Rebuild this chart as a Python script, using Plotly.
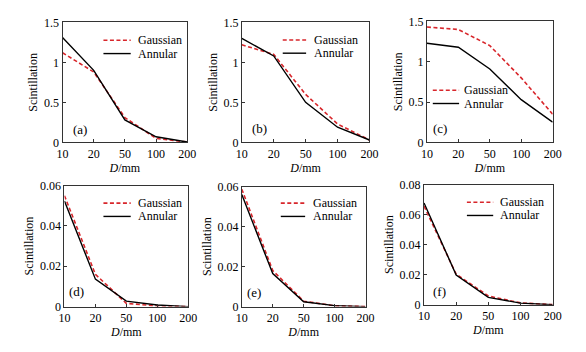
import plotly.graph_objects as go

D_labels = ["10", "20", "50", "100", "200"]

gauss_a = [1.12, 0.88, 0.31, 0.05, 0.005]
annul_a = [1.31, 0.90, 0.28, 0.07, 0.005]
gauss_b = [1.22, 1.10, 0.60, 0.23, 0.03]
annul_b = [1.30, 1.08, 0.50, 0.19, 0.03]
gauss_c = [1.43, 1.40, 1.20, 0.80, 0.35]
annul_c = [1.23, 1.18, 0.91, 0.53, 0.25]
gauss_d = [0.0550, 0.0160, 0.0016, 0.0003, 0.0]
annul_d = [0.0523, 0.0136, 0.0027, 0.0008, 0.0]
gauss_e = [0.0587, 0.0180, 0.0027, 0.0004, 0.0]
annul_e = [0.0560, 0.0165, 0.0024, 0.0005, 0.0]
gauss_f = [0.0657, 0.0203, 0.0058, 0.0012, 0.0]
annul_f = [0.0678, 0.0198, 0.0049, 0.0010, 0.0]

series_names = ["Gaussian", "Annular"]
panel_labels = ["(a)", "(b)", "(c)", "(d)", "(e)", "(f)"]
y_ranges = [[0, 1.5], [0, 1.5], [0, 1.5], [0, 0.06], [0, 0.06], [0, 0.08]]
y_ticks = [[0, 0.5, 1, 1.5]] * 3 + [[0, 0.02, 0.04, 0.06]] * 2 + [[0, 0.02, 0.04, 0.06, 0.08]]
y_ticktext = [["0", "0.5", "1", "1.5"]] * 3 + [["0", "0.02", "0.04", "0.06"]] * 2 + [["0", "0.02", "0.04", "0.06", "0.08"]]

W, H = 586, 352
# plot rectangles in pixels: left, right, top, bottom
rects = [
    (58, 186, 16, 141),
    (242, 373, 16, 141),
    (432, 561, 15, 141),
    (60, 187, 186, 312),
    (242, 369, 187, 312),
    (429, 561, 185, 310),
]
# legend: line x0, line x1, text x, first row y, row spacing (px)
leg_geo = [
    (100, 128, 133, 34.7),
    (284, 308, 314, 34.3),
    (438, 465, 468, 86.7),
    (100, 128, 133, 204.3),
    (282, 307, 313, 204.3),
    (473, 500, 505, 203.3),
]
ROW = 13.8
# panel label positions (px centers)
lab_pos = [(76, 128), (260, 127), (445, 127), (72, 296), (255, 297), (445, 296)]

series = [(gauss_a, annul_a), (gauss_b, annul_b), (gauss_c, annul_c),
          (gauss_d, annul_d), (gauss_e, annul_e), (gauss_f, annul_f)]

FONT = "Liberation Serif"
RED = "#d8262b"
styles = [dict(color=RED, width=1.6, dash="4px,2.5px"), dict(color="black", width=1.4)]

fig = go.Figure()
layout = dict(
    width=W, height=H, margin=dict(l=0, r=0, t=0, b=0),
    paper_bgcolor="white", plot_bgcolor="white",
    font=dict(family=FONT, size=12, color="black"),
    showlegend=False,
    annotations=[], shapes=[],
)

for i, pair in enumerate(series):
    n = i + 1
    xa = "x" if n == 1 else f"x{n}"
    ya = "y" if n == 1 else f"y{n}"
    for k, vals in enumerate(pair):
        fig.add_trace(go.Scatter(x=D_labels, y=vals, mode="lines", name=series_names[k],
                                 line=styles[k], xaxis=xa, yaxis=ya))
    l, r, t, b = rects[i]
    xkey = "xaxis" if n == 1 else f"xaxis{n}"
    ykey = "yaxis" if n == 1 else f"yaxis{n}"
    layout[xkey] = dict(
        domain=[l / W, r / W], anchor=ya, type="category",
        range=[0, 4], showgrid=False, zeroline=False,
        showline=True, mirror=True, linecolor="#333", linewidth=1,
        ticks="inside", ticklen=3, tickcolor="#333",
        tickfont=dict(family=FONT, size=12),
        title=dict(text="<i>D</i>/mm", font=dict(family=FONT, size=12), standoff=2),
    )
    layout[ykey] = dict(
        domain=[1 - b / H, 1 - t / H], anchor=xa,
        range=y_ranges[i], tickvals=y_ticks[i], ticktext=y_ticktext[i],
        showgrid=False, zeroline=False,
        showline=True, mirror=True, linecolor="#333", linewidth=1,
        ticks="inside", ticklen=3, tickcolor="#333",
        tickfont=dict(family=FONT, size=12),
        title=dict(text="Scintillation", font=dict(family=FONT, size=12), standoff=3),
    )
    # in-panel legend
    x0, x1, tx, y0 = leg_geo[i]
    for k, nm in enumerate(series_names):
        yy = 1 - (y0 + k * ROW) / H
        st = styles[k]
        layout["shapes"].append(dict(
            type="line", xref="paper", yref="paper", x0=x0 / W, x1=x1 / W, y0=yy, y1=yy,
            line=dict(color=st["color"], width=st["width"], dash=st.get("dash", "solid")),
        ))
        layout["annotations"].append(dict(
            text=nm, x=tx / W, y=yy, xref="paper", yref="paper", showarrow=False,
            xanchor="left", yanchor="middle", font=dict(family=FONT, size=12),
        ))
    px, py = lab_pos[i]
    layout["annotations"].append(dict(
        text=panel_labels[i], x=px / W, y=1 - py / H, xref="paper", yref="paper",
        showarrow=False, xanchor="center", yanchor="middle",
        font=dict(family=FONT, size=13),
    ))

fig.update_layout(**layout)
fig.write_html("out.html")
